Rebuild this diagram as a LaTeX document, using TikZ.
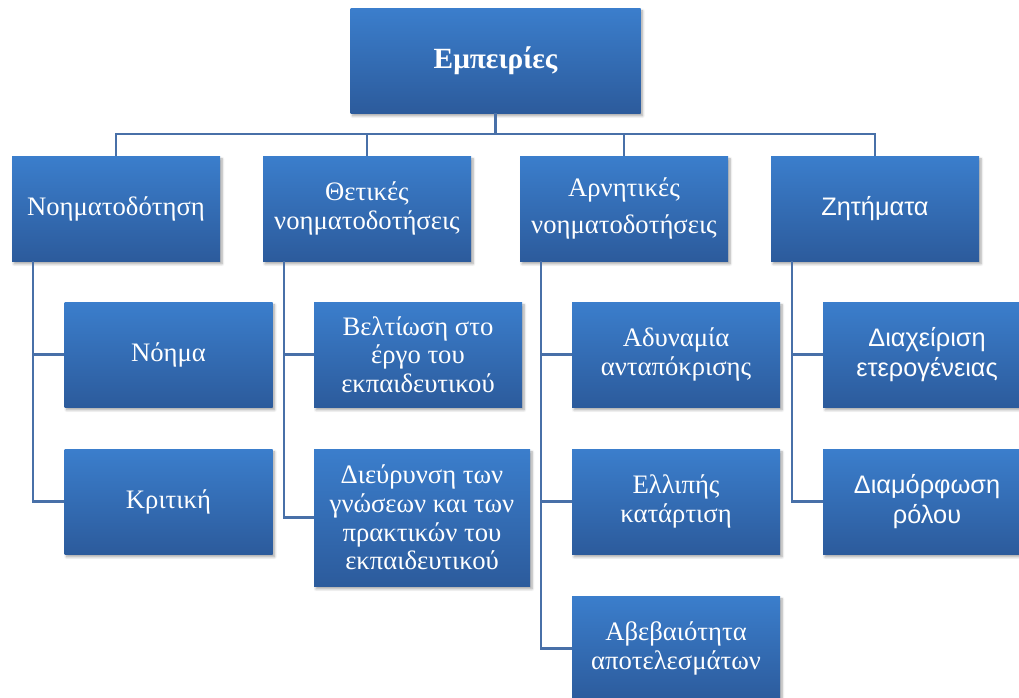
\documentclass[tikz,border=0pt]{standalone}
\usepackage{fontspec}
\setmainfont{Liberation Serif}
\newfontfamily\sansgr{Liberation Sans}
\usetikzlibrary{shadows.blur}

\definecolor{boxtop}{RGB}{59,126,204}
\definecolor{boxbot}{RGB}{44,91,156}
\definecolor{linkblue}{RGB}{72,112,168}

\begin{document}
\begin{tikzpicture}[x=0.75pt, y=-0.75pt,
  box/.style={rectangle, top color=boxtop, bottom color=boxbot, text=white,
    align=center, inner sep=2pt, minimum width=156pt, minimum height=78.75pt,
    blur shadow={shadow xshift=1.5pt, shadow yshift=-2.2pt, shadow blur steps=6, shadow opacity=35},
    font=\fontsize{20}{21.5}\selectfont},
  sansbox/.style={box, font=\sansgr\fontsize{19}{22}\selectfont},
  link/.style={draw=linkblue, line width=1.6pt}]

\clip (0,0) rectangle (1019,697);

% Top
\node[box, minimum width=217.5pt, font=\fontsize{22}{26}\selectfont\bfseries] (root) at (495.5,60.5) {Εμπειρίες};

% First level
\node[box] (n1) at (116,208.5) {Νοηματοδότηση};
\node[box] (n2) at (367,208.5) {Θετικές\\νοηματοδοτήσεις};
\node[box] (n3) at (624,208.5) {Αρνητικές\\[6pt]νοηματοδοτήσεις};
\node[sansbox] (n4) at (875,208.5) {Ζητήματα};

\draw[link] (root.south) -- ++(0,21) -| (n1.north);
\draw[link] (root.south) -- ++(0,21) -| (n2.north);
\draw[link] (root.south) -- ++(0,21) -| (n3.north);
\draw[link] (root.south) -- ++(0,21) -| (n4.north);

% Under n1
\node[box] (n11) at (168.5,354.5) {Νόημα};
\node[box] (n12) at (168.5,501.5) {Κριτική};

\draw[link] (n1.south west) ++(21,0) |- (n11.west);
\draw[link] (n1.south west) ++(21,0) |- (n12.west);

% Under n2
\node[box] (n21) at (418,354.5) {Βελτίωση στο\\έργο του\\εκπαιδευτικού};
\node[box, minimum width=162pt, minimum height=102.75pt] (n22) at (422,517.5) {Διεύρυνση των\\γνώσεων και των\\πρακτικών του\\εκπαιδευτικού};

\draw[link] (n2.south west) ++(21,0) |- (n21.west);
\draw[link] (n2.south west) ++(21,0) |- (n22.west);

% Under n3
\node[box] (n31) at (676,354.5) {Αδυναμία\\ανταπόκρισης};
\node[box] (n32) at (676,501.5) {Ελλιπής\\κατάρτιση};
\node[box] (n33) at (676,648.5) {Αβεβαιότητα\\αποτελεσμάτων};

\draw[link] (n3.south west) ++(21,0) |- (n31.west);
\draw[link] (n3.south west) ++(21,0) |- (n32.west);
\draw[link] (n3.south west) ++(21,0) |- (n33.west);

% Under n4
\node[sansbox] (n41) at (927,354.5) {Διαχείριση\\ετερογένειας};
\node[sansbox] (n42) at (927,501.5) {Διαμόρφωση\\ρόλου};

\draw[link] (n4.south west) ++(21,0) |- (n41.west);
\draw[link] (n4.south west) ++(21,0) |- (n42.west);
\end{tikzpicture}
\end{document}
